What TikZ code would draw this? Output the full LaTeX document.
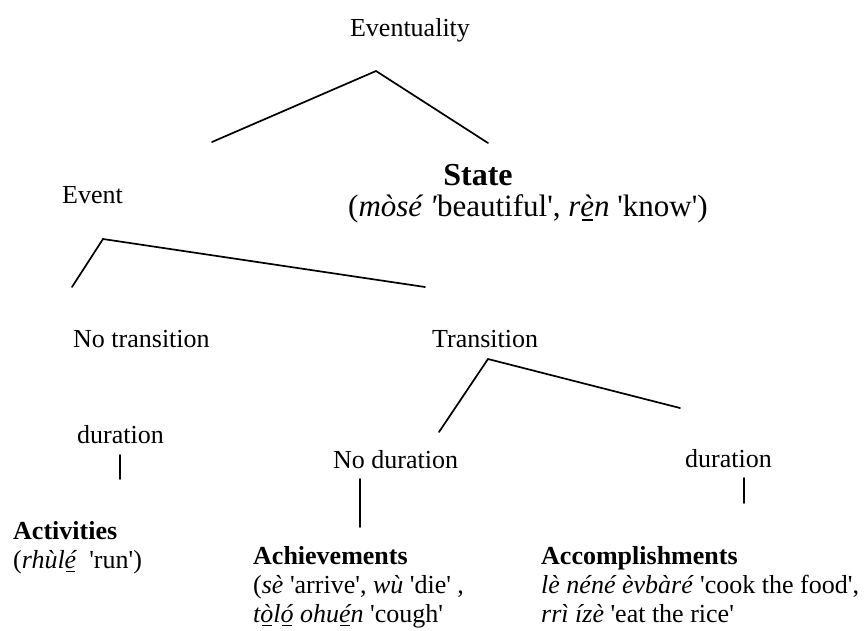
\documentclass[tikz,border=0pt]{standalone}
\usepackage{fontspec}
% Times-metric serif; \newfontfamily keeps straight quotes (no TeX mapping)
\newfontfamily\tnr{Liberation Serif}
% letter with a short bar underneath (tone/vowel mark)
\newcommand\ubar[1]{\ooalign{#1\cr\hidewidth\rule[-0.16em]{0.36em}{0.06em}\hidewidth\cr}}
\begin{document}
\begin{tikzpicture}[x=1pt,y=-1pt,
  lbl/.style={inner sep=0pt, anchor=base west, font=\tnr\fontsize{26}{29}\selectfont},
  leaf/.style={lbl, align=left},
  branch/.style={line width=1.7pt, line cap=round}]
\useasboundingbox (0,0) rectangle (867,630);

% labels
\node[lbl, anchor=base] (evty) at (410,36) {Eventuality};
\node[lbl] (event) at (62,203) {Event};
\node[lbl, anchor=base, font=\tnr\bfseries\fontsize{32}{38}\selectfont] (state) at (478,185) {State};
\node[lbl, anchor=base, font=\tnr\fontsize{31}{35}\selectfont] (stategloss) at (528,216)
  {(\textit{mòsé '}beautiful', \textit{r\ubar{è}n} 'know')};
\node[lbl] (notrans) at (73,347) {No transition};
\node[lbl] (trans) at (432,347) {Transition};
\node[lbl] (durL) at (77,443) {duration};
\node[lbl] (nodur) at (333,468) {No duration};
\node[lbl] (durR) at (685,467) {duration};

% leaf nodes: the base anchor sits on the last line
\node[leaf] (activ) at (13,568) {\textbf{Activities}\\(\textit{rhùl\ubar{é}}\ \ 'run')};
\node[leaf] (achiev) at (253,622) {\textbf{Achievements}\\(\textit{sè} 'arrive', \textit{wù} 'die' ,\\\textit{t\ubar{ò}l\ubar{ó} ohu\ubar{é}n} 'cough'};
\node[leaf] (accomp) at (541,622) {\textbf{Accomplishments}\\\textit{lè néné èvbàré} 'cook the food',\\\textit{rrì ízè} 'eat the rice'};

% branch points
\coordinate (t0) at (376,71);
\coordinate (t1) at (212,142);
\coordinate (t2) at (488,143);
\coordinate (e0) at (103,239);
\coordinate (e1) at (72,287);
\coordinate (e2) at (425,287);
\coordinate (r0) at (488,359);
\coordinate (r1) at (439,432);
\coordinate (r2) at (680,408);
\coordinate (dLa) at (120,455);
\coordinate (dLb) at (120,479);
\coordinate (nDa) at (360,479);
\coordinate (nDb) at (360,527);
\coordinate (dRa) at (744,478);
\coordinate (dRb) at (744,503);

\draw[branch] (t1) -- (t0) -- (t2);
\draw[branch] (e1) -- (e0) -- (e2);
\draw[branch] (r1) -- (r0) -- (r2);
\draw[branch] (dLa) -- (dLb);
\draw[branch] (nDa) -- (nDb);
\draw[branch] (dRa) -- (dRb);
\end{tikzpicture}
\end{document}
